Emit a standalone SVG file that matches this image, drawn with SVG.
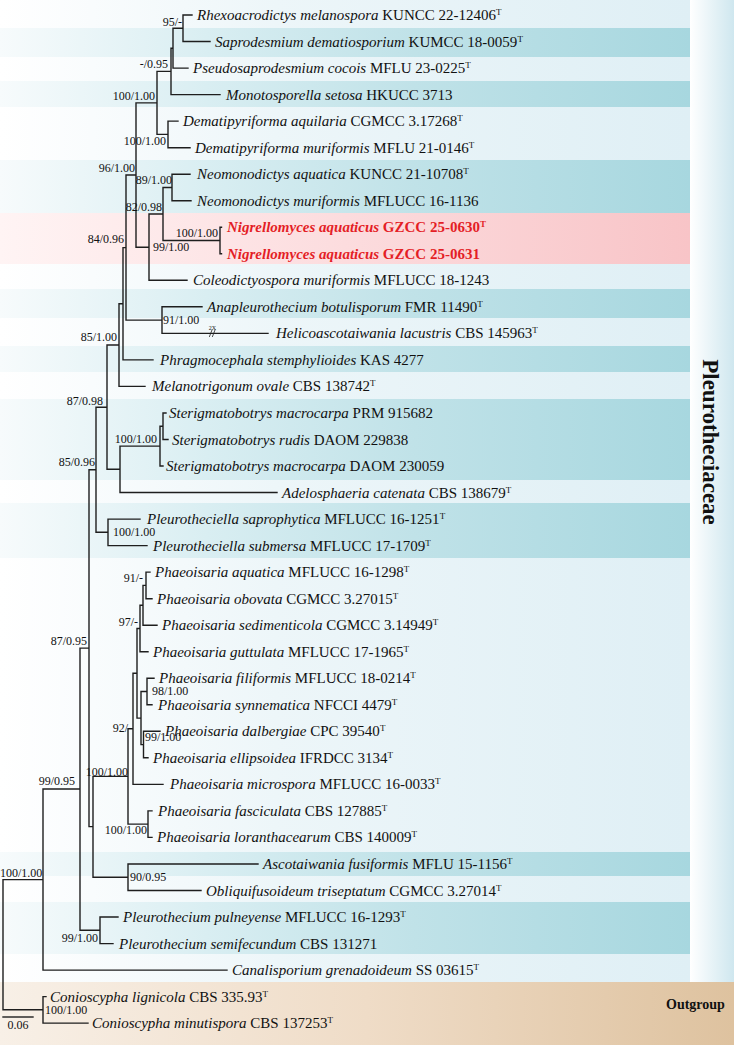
<svg xmlns="http://www.w3.org/2000/svg" width="734" height="1045" viewBox="0 0 734 1045">
<defs>
<linearGradient id="gLight" x1="0" y1="0" x2="690" y2="0" gradientUnits="userSpaceOnUse">
<stop offset="0" stop-color="#ffffff"/><stop offset="0.4" stop-color="#edf6f9"/><stop offset="1" stop-color="#dfeff5"/>
</linearGradient>
<linearGradient id="gDark" x1="0" y1="0" x2="690" y2="0" gradientUnits="userSpaceOnUse">
<stop offset="0" stop-color="#f7fbfc"/><stop offset="0.3" stop-color="#d9eef2"/><stop offset="0.6" stop-color="#c0e2e8"/><stop offset="1" stop-color="#a7d7df"/>
</linearGradient>
<linearGradient id="gPink" x1="0" y1="0" x2="690" y2="0" gradientUnits="userSpaceOnUse">
<stop offset="0" stop-color="#fff4f4"/><stop offset="0.5" stop-color="#fcdcde"/><stop offset="1" stop-color="#f8c4c7"/>
</linearGradient>
<linearGradient id="gStrip" x1="690" y1="0" x2="734" y2="0" gradientUnits="userSpaceOnUse">
<stop offset="0" stop-color="#ffffff"/><stop offset="1" stop-color="#cfe7ef"/>
</linearGradient>
<linearGradient id="gTan" x1="0" y1="0" x2="734" y2="0" gradientUnits="userSpaceOnUse">
<stop offset="0" stop-color="#f8f0e7"/><stop offset="0.5" stop-color="#efdcc7"/><stop offset="1" stop-color="#dec29f"/>
</linearGradient>
<style>
.lf{font-family:"Liberation Serif","Times New Roman",serif;font-size:15px;fill:#111}
.it{font-style:italic}
.sup{font-size:9px}
.red{fill:#e41e26;font-weight:bold}
.bs{font-family:"Liberation Serif","Times New Roman",serif;font-size:12px;fill:#111}
.br{fill:none;stroke:#1e1e1e;stroke-width:1.4;stroke-linecap:square}
.grp{font-family:"Liberation Serif","Times New Roman",serif;font-weight:bold;fill:#111}
</style>
</defs>
<g id="background">
<rect x="0" y="0" width="690" height="982" fill="url(#gLight)"/>
<rect x="0" y="28" width="690" height="29" fill="url(#gDark)"/>
<rect x="0" y="81" width="690" height="26" fill="url(#gDark)"/>
<rect x="0" y="160" width="690" height="53" fill="url(#gDark)"/>
<rect x="0" y="213" width="690" height="51" fill="url(#gPink)"/>
<rect x="0" y="289" width="690" height="29" fill="url(#gDark)"/>
<rect x="0" y="346" width="690" height="26" fill="url(#gDark)"/>
<rect x="0" y="399" width="690" height="81" fill="url(#gDark)"/>
<rect x="0" y="503" width="690" height="55" fill="url(#gDark)"/>
<rect x="0" y="852" width="690" height="24" fill="url(#gDark)"/>
<rect x="0" y="902" width="690" height="52" fill="url(#gDark)"/>
<rect x="690" y="0" width="44" height="982" fill="url(#gStrip)"/>
<rect x="0" y="982" width="734" height="63" fill="url(#gTan)"/>
</g>
<g id="connectors" class="br">
<path d="M3 879.6V1009.8M3 879.6H43M3 1009.8H43
M43 996.6V1023.1M43 996.6H46M43 1023.1H88
M43 789V970.1M43 789H80M43 970.1H227
M80 648.1V930.3M80 648.1H89M80 930.3H100
M100 917V943.6M100 917H118M100 943.6H113
M89 469.7V826.6M89 469.7H96M89 826.6H93
M93 776.4V877.2M93 776.4H128M93 877.2H128
M128 864V890.5M128 864H258M128 890.5H201
M128 728.8V824.1M128 728.8H133M128 824.1H148
M148 810.9V837.4M148 810.9H152M148 837.4H152
M133 673.3V784.4M133 673.3H137M133 784.4H163
M137 628.5V718.1M137 628.5H140M137 718.1H141
M140 605.3V651.7M140 605.3H143M140 651.7H148
M143 585.4V625.2M143 585.4H146M143 625.2H157
M146 572.1V598.7M146 572.1H150M146 598.7H152
M141 691.5V744.6M141 691.5H147M141 744.6H143.5
M147 678.3V704.8M147 678.3H154M147 704.8H152
M143.5 731.3V757.8M143.5 731.3H160M143.5 757.8H148
M96 407.2V532.3M96 407.2H107M96 532.3H108
M108 519.1V545.6M108 519.1H140M108 545.6H147
M107 345V469.3M107 345H119M107 469.3H120
M120 446.1V492.5M120 446.1H160M120 492.5H277
M160 426.2V466M160 426.2H163M160 466H163
M163 413V439.5M163 413H166M163 439.5H168
M119 303.7V386.4M119 303.7H123M119 386.4H145
M123 247.6V359.9M123 247.6H126M123 359.9H153
M126 175V320.1M126 175H136M126 320.1H162
M162 306.8V333.4M162 306.8H202M162 333.4H268
M136 102.9V247.2M136 102.9H157M136 247.2H149
M149 214V280.3M149 214H163M149 280.3H187
M163 187.5V240.5M163 187.5H172M163 240.5H220
M172 174.2V200.7M172 174.2H190M172 200.7H191
M220 227.2V253.8M220 227.2H221.5M220 253.8H221.5
M157 71.4V134.4M157 71.4H171M157 134.4H168
M168 121.1V147.7M168 121.1H178M168 147.7H190
M171 48.2V94.6M171 48.2H173M171 94.6H220
M173 28.25V68.1M173 28.25H183M173 68.1H188
M183 15V41.5M183 15H192M183 41.5H210"/>
<path d="M209.5 336.5L212 330M212.5 336.5L215 330" stroke-width="0.8"/>
<path d="M3 1017H33"/>
</g>
<g id="break-label"><text class="bs" x="212.3" y="329.5" text-anchor="middle" style="font-size:6px">2X</text></g>
<g id="scale-bar"><text class="bs" x="18" y="1029" text-anchor="middle">0.06</text></g>
<g id="leaves" class="lf">
<g id="t00"><text x="197" y="20"><tspan class="it">Rhexoacrodictys melanospora</tspan> KUNCC 22-12406<tspan class="sup" dy="-5">T</tspan></text></g>
<g id="t01"><text x="215" y="46.5"><tspan class="it">Saprodesmium dematiosporium</tspan> KUMCC 18-0059<tspan class="sup" dy="-5">T</tspan></text></g>
<g id="t02"><text x="193" y="73.1"><tspan class="it">Pseudosaprodesmium cocois</tspan> MFLU 23-0225<tspan class="sup" dy="-5">T</tspan></text></g>
<g id="t03"><text x="226" y="99.6"><tspan class="it">Monotosporella setosa</tspan> HKUCC 3713</text></g>
<g id="t04"><text x="183" y="126.1"><tspan class="it">Dematipyriforma aquilaria</tspan> CGMCC 3.17268<tspan class="sup" dy="-5">T</tspan></text></g>
<g id="t05"><text x="195" y="152.7"><tspan class="it">Dematipyriforma muriformis</tspan> MFLU 21-0146<tspan class="sup" dy="-5">T</tspan></text></g>
<g id="t06"><text x="197" y="179.2"><tspan class="it">Neomonodictys aquatica</tspan> KUNCC 21-10708<tspan class="sup" dy="-5">T</tspan></text></g>
<g id="t07"><text x="197" y="205.7"><tspan class="it">Neomonodictys muriformis</tspan> MFLUCC 16-1136</text></g>
<g id="t08"><text class="red" x="227" y="232.2"><tspan class="it">Nigrellomyces aquaticus</tspan> GZCC 25-0630<tspan class="sup" dy="-5">T</tspan></text></g>
<g id="t09"><text class="red" x="227" y="258.8"><tspan class="it">Nigrellomyces aquaticus</tspan> GZCC 25-0631</text></g>
<g id="t10"><text x="193" y="285.3"><tspan class="it">Coleodictyospora muriformis</tspan> MFLUCC 18-1243</text></g>
<g id="t11"><text x="207" y="311.8"><tspan class="it">Anapleurothecium botulisporum</tspan> FMR 11490<tspan class="sup" dy="-5">T</tspan></text></g>
<g id="t12"><text x="276" y="338.4"><tspan class="it">Helicoascotaiwania lacustris</tspan> CBS 145963<tspan class="sup" dy="-5">T</tspan></text></g>
<g id="t13"><text x="160" y="364.9"><tspan class="it">Phragmocephala stemphylioides</tspan> KAS 4277</text></g>
<g id="t14"><text x="152" y="391.4"><tspan class="it">Melanotrigonum ovale</tspan> CBS 138742<tspan class="sup" dy="-5">T</tspan></text></g>
<g id="t15"><text x="169" y="418"><tspan class="it">Sterigmatobotrys macrocarpa</tspan> PRM 915682</text></g>
<g id="t16"><text x="172" y="444.5"><tspan class="it">Sterigmatobotrys rudis</tspan> DAOM 229838</text></g>
<g id="t17"><text x="166" y="471"><tspan class="it">Sterigmatobotrys macrocarpa</tspan> DAOM 230059</text></g>
<g id="t18"><text x="282" y="497.5"><tspan class="it">Adelosphaeria catenata</tspan> CBS 138679<tspan class="sup" dy="-5">T</tspan></text></g>
<g id="t19"><text x="147" y="524.1"><tspan class="it">Pleurotheciella saprophytica</tspan> MFLUCC 16-1251<tspan class="sup" dy="-5">T</tspan></text></g>
<g id="t20"><text x="153" y="550.6"><tspan class="it">Pleurotheciella submersa</tspan> MFLUCC 17-1709<tspan class="sup" dy="-5">T</tspan></text></g>
<g id="t21"><text x="155" y="577.1"><tspan class="it">Phaeoisaria aquatica</tspan> MFLUCC 16-1298<tspan class="sup" dy="-5">T</tspan></text></g>
<g id="t22"><text x="157" y="603.7"><tspan class="it">Phaeoisaria obovata</tspan> CGMCC 3.27015<tspan class="sup" dy="-5">T</tspan></text></g>
<g id="t23"><text x="162" y="630.2"><tspan class="it">Phaeoisaria sedimenticola</tspan> CGMCC 3.14949<tspan class="sup" dy="-5">T</tspan></text></g>
<g id="t24"><text x="153" y="656.7"><tspan class="it">Phaeoisaria guttulata</tspan> MFLUCC 17-1965<tspan class="sup" dy="-5">T</tspan></text></g>
<g id="t25"><text x="159" y="683.3"><tspan class="it">Phaeoisaria filiformis</tspan> MFLUCC 18-0214<tspan class="sup" dy="-5">T</tspan></text></g>
<g id="t26"><text x="158" y="709.8"><tspan class="it">Phaeoisaria synnematica</tspan> NFCCI 4479<tspan class="sup" dy="-5">T</tspan></text></g>
<g id="t27"><text x="165" y="736.3"><tspan class="it">Phaeoisaria dalbergiae</tspan> CPC 39540<tspan class="sup" dy="-5">T</tspan></text></g>
<g id="t28"><text x="153" y="762.8"><tspan class="it">Phaeoisaria ellipsoidea</tspan> IFRDCC 3134<tspan class="sup" dy="-5">T</tspan></text></g>
<g id="t29"><text x="170" y="789.4"><tspan class="it">Phaeoisaria microspora</tspan> MFLUCC 16-0033<tspan class="sup" dy="-5">T</tspan></text></g>
<g id="t30"><text x="158" y="815.9"><tspan class="it">Phaeoisaria fasciculata</tspan> CBS 127885<tspan class="sup" dy="-5">T</tspan></text></g>
<g id="t31"><text x="157" y="842.4"><tspan class="it">Phaeoisaria loranthacearum</tspan> CBS 140009<tspan class="sup" dy="-5">T</tspan></text></g>
<g id="t32"><text x="263" y="869"><tspan class="it">Ascotaiwania fusiformis</tspan> MFLU 15-1156<tspan class="sup" dy="-5">T</tspan></text></g>
<g id="t33"><text x="206" y="895.5"><tspan class="it">Obliquifusoideum triseptatum</tspan> CGMCC 3.27014<tspan class="sup" dy="-5">T</tspan></text></g>
<g id="t34"><text x="123" y="922"><tspan class="it">Pleurothecium pulneyense</tspan> MFLUCC 16-1293<tspan class="sup" dy="-5">T</tspan></text></g>
<g id="t35"><text x="119" y="948.6"><tspan class="it">Pleurothecium semifecundum</tspan> CBS 131271</text></g>
<g id="t36"><text x="232" y="975.1"><tspan class="it">Canalisporium grenadoideum</tspan> SS 03615<tspan class="sup" dy="-5">T</tspan></text></g>
<g id="t37"><text x="50" y="1001.6"><tspan class="it">Conioscypha lignicola</tspan> CBS 335.93<tspan class="sup" dy="-5">T</tspan></text></g>
<g id="t38"><text x="92" y="1028.1"><tspan class="it">Conioscypha minutispora</tspan> CBS 137253<tspan class="sup" dy="-5">T</tspan></text></g>
</g>
<g id="supports" class="bs">
<g id="n-q"><text x="182" y="26" text-anchor="end">95/-</text></g>
<g id="n-n"><text x="168" y="68" text-anchor="end">-/0.95</text></g>
<g id="n-m"><text x="155" y="100" text-anchor="end">100/1.00</text></g>
<g id="n-r"><text x="166" y="145" text-anchor="end">100/1.00</text></g>
<g id="n-j"><text x="135" y="172" text-anchor="end">96/1.00</text></g>
<g id="n-neo"><text x="172" y="184" text-anchor="end">89/1.00</text></g>
<g id="n-l"><text x="162" y="211" text-anchor="end">82/0.98</text></g>
<g id="n-nig"><text x="218" y="237" text-anchor="end">100/1.00</text></g>
<g id="n-i"><text x="124" y="243" text-anchor="end">84/0.96</text></g>
<g id="n-k"><text x="153" y="251">99/1.00</text></g>
<g id="n-ana"><text x="163" y="324">91/1.00</text></g>
<g id="n-g"><text x="117" y="341" text-anchor="end">85/1.00</text></g>
<g id="n-f"><text x="103" y="405" text-anchor="end">87/0.98</text></g>
<g id="n-ster"><text x="157" y="443" text-anchor="end">100/1.00</text></g>
<g id="n-c"><text x="95" y="466" text-anchor="end">85/0.96</text></g>
<g id="n-pl"><text x="113" y="536">100/1.00</text></g>
<g id="n-x"><text x="143" y="582" text-anchor="end">91/-</text></g>
<g id="n-v"><text x="138" y="626" text-anchor="end">97/-</text></g>
<g id="n-b"><text x="87" y="645" text-anchor="end">87/0.95</text></g>
<g id="n-w"><text x="152" y="695">98/1.00</text></g>
<g id="n-t"><text x="132" y="732" text-anchor="end">92/-</text></g>
<g id="n-z"><text x="145" y="741">99/1.00</text></g>
<g id="n-s"><text x="128" y="776" text-anchor="end">100/1.00</text></g>
<g id="n-a"><text x="75" y="785" text-anchor="end">99/0.95</text></g>
<g id="n-fasc"><text x="147" y="834" text-anchor="end">100/1.00</text></g>
<g id="n-in"><text x="0" y="877">100/1.00</text></g>
<g id="n-ao"><text x="130" y="881">90/0.95</text></g>
<g id="n-ple"><text x="98" y="942" text-anchor="end">99/1.00</text></g>
<g id="n-out"><text x="45" y="1014">100/1.00</text></g>
</g>
<g id="group-labels" class="grp">
<text x="703" y="442" transform="rotate(90 703 442)" text-anchor="middle" style="font-size:23px">Pleurotheciaceae</text>
<text x="666" y="1009" style="font-size:14px">Outgroup</text>
</g>
</svg>
